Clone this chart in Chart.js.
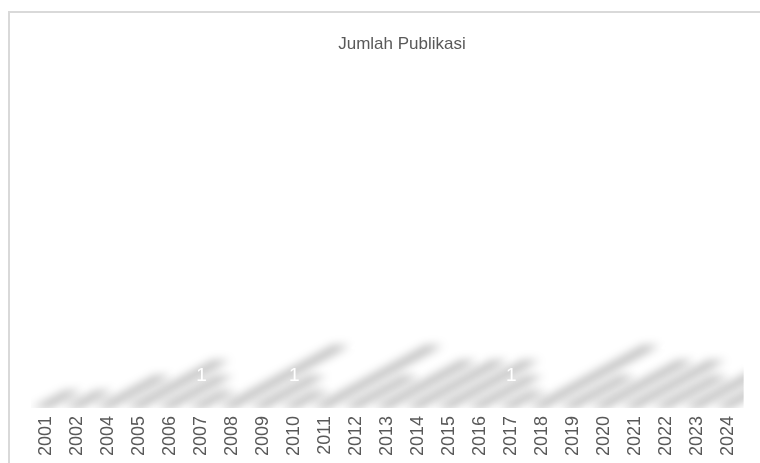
<!DOCTYPE html>
<html>
<head>
<meta charset="utf-8">
<script src="https://cdn.jsdelivr.net/npm/chart.js@4/dist/chart.umd.min.js"></script>
<style>
  html, body { margin: 0; padding: 0; background: #fff; }
  canvas { display: block; }
</style>
</head>
<body>
<canvas id="chart" width="760" height="463"></canvas>
<script>
// data
const years = ['2001', '2002', '2004', '2005', '2006', '2007', '2008', '2009', '2010', '2011', '2012', '2013',
    '2014', '2015', '2016', '2017', '2018', '2019', '2020', '2021', '2022', '2023', '2024'];
const jumlah = [1, 1, 2, 3, 2, 1, 4, 2, 1, 4, 2, 3, 3, 3, 2, 1, 4, 2, 3, 3, 2, 3, 3];
const chartTitle = 'Jumlah Publikasi';

const FONT = "'Liberation Sans', Arial, sans-serif";
const GREY = '#595959';

// chart border (only top + left visible) and the title, centred like excel on the whole chart box
const frame = {
    id: 'frame',
    beforeDraw(chart) {
        const c = chart.ctx;
        c.save();
        c.strokeStyle = '#d9d9d9';
        c.lineWidth = 2;
        c.beginPath();
        c.moveTo(9, 470);
        c.lineTo(9, 12);
        c.lineTo(770, 12);
        c.stroke();
        c.fillStyle = GREY;
        c.font = '17px ' + FONT;
        c.textAlign = 'center';
        c.textBaseline = 'middle';
        c.fillText(chartTitle, 402, 44);
        c.restore();
    }
};

// blurry skewed shadow behind each (empty) bar
const SHADOW_SCALE = 0.24;
const SHADOW_SKEW = 1.8;
const barShadow = {
    id: 'barShadow',
    beforeDatasetsDraw(chart) {
        const c = chart.ctx;
        const area = chart.chartArea;
        const meta = chart.getDatasetMeta(0);
        c.save();
        c.beginPath();
        c.rect(area.left, area.top, area.right - area.left, area.bottom - area.top + 2);
        c.clip();
        c.filter = 'blur(5px)';
        c.fillStyle = 'rgba(0,0,0,0.27)';
        meta.data.forEach(bar => {
            const p = bar.getProps(['x', 'y', 'base', 'width'], true);
            const h = (p.base - p.y) * SHADOW_SCALE;
            const dx = h * SHADOW_SKEW;
            c.beginPath();
            c.moveTo(p.x - p.width / 2 - 6, p.base + 2);
            c.lineTo(p.x + p.width / 2 - 6, p.base + 2);
            c.lineTo(p.x + p.width / 2 + dx, p.base - h);
            c.lineTo(p.x - p.width / 2 + dx, p.base - h);
            c.closePath();
            c.fill();
        });
        c.restore();
    }
};

// white value labels in the middle of the bars
const valueLabels = {
    id: 'valueLabels',
    afterDatasetsDraw(chart) {
        const c = chart.ctx;
        const meta = chart.getDatasetMeta(0);
        c.save();
        c.fillStyle = '#ffffff';
        c.font = '19px ' + FONT;
        c.textAlign = 'center';
        c.textBaseline = 'middle';
        meta.data.forEach((bar, i) => {
            const p = bar.getProps(['x', 'y', 'base'], true);
            c.fillText(String(jumlah[i]), p.x, (p.y + p.base) / 2 + 1);
        });
        c.restore();
    }
};

const ctx = document.querySelector('#chart').getContext('2d');
const chart = new Chart(ctx, {
    type: 'bar',
    data: {
        labels: years,
        datasets: [{
            label: chartTitle,
            data: jumlah,
            backgroundColor: 'rgba(255,255,255,0)',
            borderWidth: 0,
            categoryPercentage: 1,
            barPercentage: 0.55
        }]
    },
    options: {
        responsive: false,
        animation: false,
        devicePixelRatio: 1,
        layout: {
            padding: { left: 31, right: 11, top: 91, bottom: -3 }
        },
        scales: {
            x: {
                grid: { display: false, drawTicks: false },
                border: { display: false },
                ticks: {
                    color: GREY,
                    font: { family: FONT, size: 18 },
                    minRotation: 90,
                    maxRotation: 90,
                    padding: 10,
                    autoSkip: false
                }
            },
            y: {
                display: false,
                min: 0,
                max: 5
            }
        },
        plugins: {
            legend: { display: false },
            tooltip: { enabled: false },
            title: { display: false }
        }
    },
    plugins: [frame, barShadow, valueLabels]
});
</script>
</body>
</html>
